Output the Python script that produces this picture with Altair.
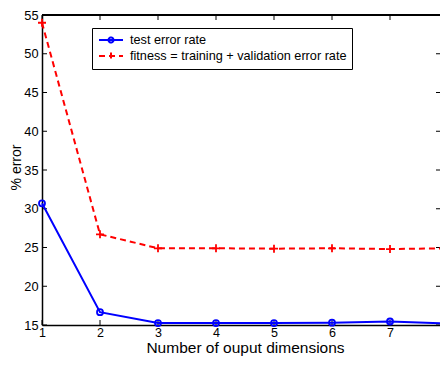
import altair as alt
import pandas as pd

dims = [1, 2, 3, 4, 5, 6, 7, 8]
test_err = [30.7, 16.65, 15.25, 15.25, 15.25, 15.3, 15.45, 15.2]
fitness = [54.0, 26.7, 24.9, 24.9, 24.85, 24.9, 24.8, 24.9]
series_names = ["test error rate", "fitness = training + validation error rate"]
y_ticks = [15, 20, 25, 30, 35, 40, 45, 50, 55]
x_ticks = dims

# plot area: the reference's right edge (x = 8) lies just past the visible window
W, H = 398, 310
PX_PER_DIM = 58
X_MAX = 1 + W / PX_PER_DIM
FONT = "Liberation Sans"

rows = []
for d, t, f in zip(dims, test_err, fitness):
    rows.append({"dim": d, "err": t, "series": series_names[0]})
    rows.append({"dim": d, "err": f, "series": series_names[1]})
df = pd.DataFrame(rows)

xs = alt.Scale(domain=[1, X_MAX], nice=False, zero=False)
ys = alt.Scale(domain=[15, 55], nice=False, zero=False)

x_axis = alt.Axis(values=x_ticks, format="d", grid=False, tickSize=0, labelPadding=1,
                  labelFontSize=12.5, titleFontSize=15.5, titlePadding=2,
                  domain=True, domainColor="black", domainWidth=1.5,
                  labelFont=FONT, titleFont=FONT, titleFontWeight="normal",
                  labelColor="black", titleColor="black", labelFlush=False,
                  titleAnchor="middle", titleX=203)
y_axis = alt.Axis(values=y_ticks, grid=False, tickSize=0, labelPadding=4,
                  labelFontSize=12.8, titleFontSize=14, titleX=-19, titleY=152,
                  domain=True, domainColor="black", domainWidth=1.5,
                  labelFont=FONT, titleFont=FONT, titleFontWeight="normal",
                  labelColor="black", titleColor="black", labelFlush=False)
X = alt.X("dim:Q", scale=xs, title="Number of ouput dimensions", axis=x_axis)
Y = alt.Y("err:Q", scale=ys, title="% error", axis=y_axis)

base = alt.Chart(df)
blue = "#0000ff"
red = "#ff0000"

test_line = base.transform_filter(alt.datum.series == series_names[0]).mark_line(
    color=blue, strokeWidth=2).encode(x=X, y=Y)
fit_line = base.transform_filter(alt.datum.series == series_names[1]).mark_line(
    color=red, strokeWidth=2, strokeDash=[6, 4]).encode(x=X, y=Y)
test_pts = base.transform_filter(alt.datum.series == series_names[0]).mark_point(
    color=blue, shape="circle", size=36, strokeWidth=1.8, filled=False, opacity=1).encode(x=X, y=Y)
fit_pts = base.transform_filter(alt.datum.series == series_names[1]).mark_point(
    color=red, shape="M-1,0H1M0,-1V1", size=64, strokeWidth=1.8, filled=False, opacity=1).encode(x=X, y=Y)

# frame top edge and inward ticks (MATLAB style box)
tick_x = pd.DataFrame({"dim": x_ticks})
tick_y = pd.DataFrame({"err": y_ticks})
frame = alt.Chart(tick_x).mark_rule(color="black", strokeWidth=1.5).encode(
    x=alt.value(0), x2=alt.value(W), y=alt.value(0))
ticks = alt.layer(
    frame,
    alt.Chart(tick_x).mark_rule(color="black", strokeWidth=1).encode(x=X, y=alt.value(0), y2=alt.value(5)),
    alt.Chart(tick_x).mark_rule(color="black", strokeWidth=1).encode(x=X, y=alt.value(H), y2=alt.value(H - 5)),
    alt.Chart(tick_y).mark_rule(color="black", strokeWidth=1).encode(y=Y, x=alt.value(0), x2=alt.value(5)),
    alt.Chart(tick_y).mark_rule(color="black", strokeWidth=1).encode(y=Y, x=alt.value(W), x2=alt.value(W - 4)),
)

legend_paths = [
    "M-2,0H2M0.42,0A0.42,0.42,0,1,1,-0.42,0A0.42,0.42,0,1,1,0.42,0",
    "M-2,0H2M0,-0.58V0.58",
]
legend_layer = base.transform_filter("false").mark_point(filled=False, opacity=1).encode(
    x=X, y=Y,
    color=alt.Color("series:N", scale=alt.Scale(domain=series_names, range=[blue, red]),
                    legend=alt.Legend(title=None, orient="none", legendX=50, legendY=13,
                                      strokeColor="black", fillColor="white", padding=5,
                                      labelFontSize=12.7, labelFont=FONT, labelColor="black",
                                      symbolSize=144, symbolStrokeWidth=2, rowPadding=1,
                                      symbolFillColor="transparent",
                                      labelOffset=12, labelLimit=400, symbolOffset=7)),
    shape=alt.Shape("series:N", scale=alt.Scale(domain=series_names, range=legend_paths)),
    strokeDash=alt.StrokeDash("series:N", scale=alt.Scale(domain=series_names, range=[[1, 0], [6, 4]])),
)

chart = alt.layer(ticks, test_line, fit_line, test_pts, fit_pts, legend_layer).properties(
    width=W, height=H, padding={"left": 34, "top": 7, "right": 0, "bottom": 31},
    autosize=alt.AutoSizeParams(type="none"),
    background="white",
).configure_view(stroke=None)

chart.save("out.html", embed_options={"renderer": "svg", "actions": False})
